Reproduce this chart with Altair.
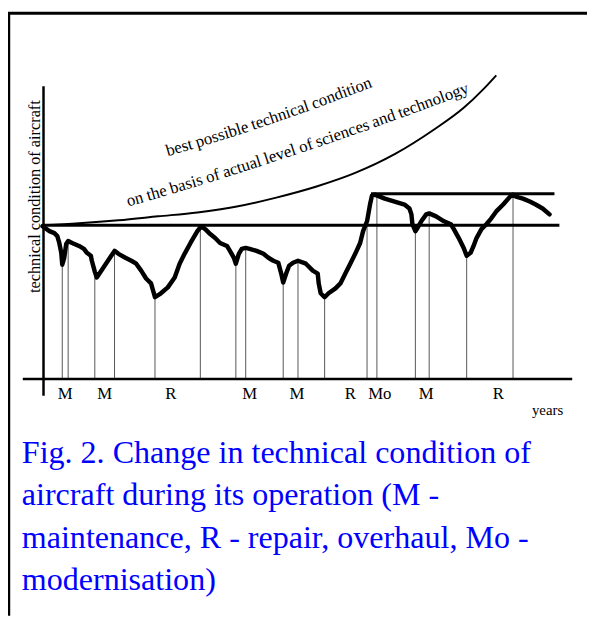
import altair as alt
import pandas as pd

# ---- actual technical condition of the aircraft (thick wavy line) ----
cond_x = [0, 7, 12, 15, 17, 19, 20, 22, 24, 26, 30, 37, 42, 45, 49, 50, 53, 55,
          73, 77, 84, 90, 95, 100, 105, 110, 114, 120, 127, 134, 139, 144, 150, 157,
          161, 165, 170, 175, 180, 187, 190, 194, 196, 199, 202, 206, 210, 217, 224,
          229, 234, 239, 242, 244, 247, 250, 254, 259, 267, 274, 279, 280, 282, 286,
          290, 297, 302, 307, 312, 317, 322, 325, 329, 332, 334, 337, 347, 357, 367,
          372, 374, 375, 378, 380, 384, 389, 392, 399, 407, 414, 417, 422, 427, 430,
          434, 437, 440, 445, 450, 455, 460, 467, 474, 477, 480, 487, 494, 500, 507, 514]
cond_y = [154, 149, 147, 144, 137, 127, 115, 122, 136, 139, 137, 134, 131, 127, 124, 119, 108, 102,
          129, 126, 122, 119, 116, 109, 101, 96, 82, 86, 92, 102, 116, 126, 137, 149,
          154, 151, 146, 142, 137, 134, 129, 122, 116, 126, 131, 132, 131, 129, 126,
          122, 119, 117, 106, 97, 106, 114, 117, 119, 116, 109, 106, 96, 86, 82,
          86, 91, 96, 106, 116, 126, 137, 149, 159, 176, 185, 186, 182, 179, 176,
          172, 166, 156, 149, 152, 159, 166, 167, 164, 159, 156, 151, 142, 132, 124,
          127, 134, 142, 151, 156, 162, 169, 176, 184, 186, 184, 182, 179, 176, 172, 166]

# ---- best possible technical condition (science & technology level) ----
best_x = [0, 37, 77, 117, 157, 197, 237, 277, 317, 357, 397, 427, 447, 460]
best_y = [155, 157, 160, 164, 168, 174, 183, 194, 208, 227, 252, 274, 293, 307]

# ---- service events: thin vertical lines up to the curve ----
event_x = [20, 26, 53, 73, 114, 160, 196, 206, 244, 259, 286, 329, 339, 378, 392, 430, 477]
event_top = [115, 139, 104, 129, 82, 154, 116, 132, 97, 119, 82, 159, 186, 149, 167, 124, 186]

# ---- event labels under the time axis ----
label_text = ["M", "M", "R", "M", "M", "R", "Mo", "M", "R"]
label_x = [23, 63, 130, 210, 258, 312, 342, 389, 462]

# ---- reference levels (initial and after modernisation) ----
level_y = [155, 187]
level_start = [0, 333]
level_end = [524, 519]

# ---- words written along the best-possible curve ----
words = ["best", "possible", "technical", "condition",
         "on", "the", "basis", "of", "actual", "level", "of", "sciences", "and", "technology"]
word_x = [140.1, 183.4, 242.4, 304.9,
          95.1, 117.1, 147.1, 173.9, 203.7, 242.3, 268.6, 305.6, 347.4, 398.0]
word_y = [228.8, 241.9, 261.4, 284.0,
          176.3, 182.7, 191.7, 199.9, 209.3, 221.9, 230.6, 243.3, 258.1, 276.6]
word_tilt = [16.3, 17.5, 19.0, 20.7,
             16.1, 16.4, 16.9, 17.2, 17.7, 18.2, 18.6, 19.1, 19.8, 20.5]

caption_lines = ["Fig. 2. Change in technical condition of",
                 "aircraft during its operation (M -",
                 "maintenance, R - repair, overhaul, Mo -",
                 "modernisation)"]

W, H = 587, 612
SERIF = "Liberation Serif"
xs = alt.Scale(domain=[-35, 552], nice=False, zero=False)
ys = alt.Scale(domain=[-241, 371], nice=False, zero=False)


def X(f):
    return alt.X(f, type="quantitative", scale=xs, axis=None)


def Y(f):
    return alt.Y(f, type="quantitative", scale=ys, axis=None)


cond_df = pd.DataFrame({"x": cond_x, "y": cond_y})
best_df = pd.DataFrame({"x": best_x, "y": best_y})
ev_df = pd.DataFrame({"x": event_x, "top": event_top, "base": [0] * len(event_x)})
lab_df = pd.DataFrame({"t": label_text, "x": label_x, "y": [-21] * len(label_x)})
lev_df = pd.DataFrame({"y": level_y, "x0": level_start, "x1": level_end})
word_df = pd.DataFrame({"w": words, "x": word_x, "y": word_y,
                        "a": [360 - t for t in word_tilt]})
axes_df = pd.DataFrame({"x0": [-20, 1], "x1": [537, 1], "y0": [-1, -18], "y1": [-1, 296]})

events = alt.Chart(ev_df).mark_rule(color="#555555", strokeWidth=1).encode(
    x=X("x"), y=Y("base"), y2="top")

axes = alt.Chart(axes_df).mark_rule(color="black", strokeWidth=2.5).encode(
    x=X("x0"), x2="x1", y=Y("y0"), y2="y1")

levels = alt.Chart(lev_df).mark_rule(color="black", strokeWidth=3).encode(
    x=X("x0"), x2="x1", y=Y("y"))

best = alt.Chart(best_df).mark_line(color="black", strokeWidth=2, interpolate="monotone").encode(
    x=X("x"), y=Y("y"))

cond = alt.Chart(cond_df).mark_line(color="black", strokeWidth=4.5, strokeJoin="round",
                                    strokeCap="round").encode(x=X("x"), y=Y("y"))

word_txt = alt.Chart(word_df).mark_text(font=SERIF, fontSize=17, color="black",
                                        align="center", baseline="alphabetic").encode(
    x=X("x"), y=Y("y"), text="w", angle=alt.Angle("a:Q", scale=None))

labels = alt.Chart(lab_df).mark_text(font=SERIF, fontSize=17, color="black",
                                     align="center", baseline="alphabetic").encode(
    x=X("x"), y=Y("y"), text="t")

years = alt.Chart(pd.DataFrame({"t": ["years"], "x": [512], "y": [-37]})).mark_text(
    font=SERIF, fontSize=15, color="black", align="center", baseline="alphabetic").encode(
    x=X("x"), y=Y("y"), text="t")

ylab = alt.Chart(pd.DataFrame({"t": ["technical condition of aircraft"], "x": [-3], "y": [184]})).mark_text(
    font=SERIF, fontSize=16.5, color="black", align="center", baseline="alphabetic", angle=270).encode(
    x=X("x"), y=Y("y"), text="t")

frame_top = alt.Chart(pd.DataFrame({"a": [0]})).mark_rule(color="black", strokeWidth=3).encode(
    x=alt.value(0), x2=alt.value(W), y=alt.value(1))
frame_left = alt.Chart(pd.DataFrame({"a": [0]})).mark_rule(color="black", strokeWidth=2.5).encode(
    x=alt.value(1), y=alt.value(0), y2=alt.value(H))

caption_layers = []
for i, line in enumerate(caption_lines):
    caption_layers.append(
        alt.Chart(pd.DataFrame({"t": [line]})).mark_text(
            font=SERIF, fontSize=32.5, color="#0000ff", align="left", baseline="alphabetic").encode(
            text="t", x=alt.value(14), y=alt.value(457 + 43 * i)))

chart = alt.layer(frame_top, frame_left, events, axes, levels, best, cond, word_txt,
                  labels, years, ylab, *caption_layers).properties(
    width=W, height=H, padding=0, autosize=alt.AutoSizeParams(type="none")
).configure_view(stroke=None)

chart.save("out.html", embed_options={"renderer": "svg", "actions": False})
